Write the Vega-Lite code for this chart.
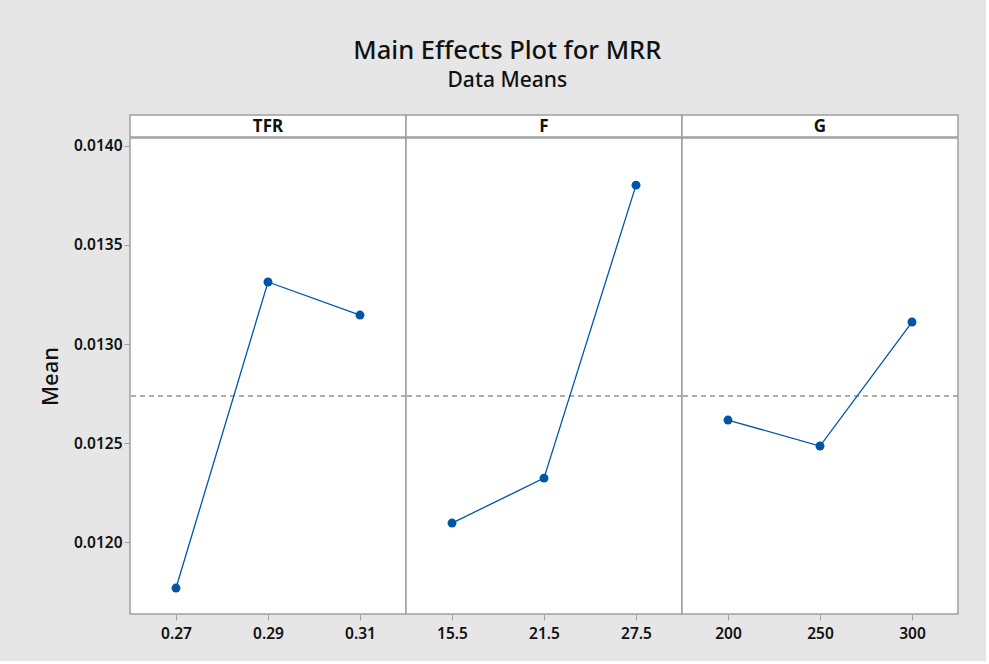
{
  "$schema": "https://vega.github.io/schema/vega-lite/v6.json",
  "background": "#e6e6e6",
  "padding": {"left": 39, "top": 38, "right": 26, "bottom": 18},
  "title": {
    "text": "Main Effects Plot for MRR",
    "subtitle": "Data Means",
    "anchor": "middle",
    "dx": 8,
    "font": "Noto Sans",
    "fontSize": 25.5,
    "fontWeight": 500,
    "color": "#111111",
    "subtitleFont": "Noto Sans",
    "subtitleFontSize": 21,
    "subtitleFontWeight": 500,
    "subtitleColor": "#111111",
    "subtitlePadding": 6,
    "offset": 23
  },
  "datasets": {
    "means": [
      {"factor": "TFR", "level": "0.27", "mean": 0.011768},
      {"factor": "TFR", "level": "0.29", "mean": 0.013313},
      {"factor": "TFR", "level": "0.31", "mean": 0.013146},
      {"factor": "F", "level": "15.5", "mean": 0.012096},
      {"factor": "F", "level": "21.5", "mean": 0.012323},
      {"factor": "F", "level": "27.5", "mean": 0.013802},
      {"factor": "G", "level": "200", "mean": 0.012616},
      {"factor": "G", "level": "250", "mean": 0.012485},
      {"factor": "G", "level": "300", "mean": 0.013111}
    ],
    "factors": [
      {"factor": "TFR"},
      {"factor": "F"},
      {"factor": "G"}
    ]
  },
  "vconcat": [
    {
      "data": {"name": "factors"},
      "facet": {
        "column": {"field": "factor", "sort": ["TFR", "F", "G"], "header": {"title": null, "labels": false}}
      },
      "spacing": 0,
      "bounds": "flush",
      "spec": {
        "width": 276,
        "height": 22,
        "layer": [
          {
            "mark": {"type": "rect", "fill": "white", "stroke": "#a0a0a0", "strokeWidth": 1.5},
            "encoding": {}
          },
          {
            "mark": {"type": "text", "font": "Noto Sans", "fontSize": 17, "fontWeight": "bold", "color": "#111111", "baseline": "middle", "align": "center", "dy": 1},
            "encoding": {"text": {"field": "factor"}}
          }
        ]
      }
    },
    {
      "data": {"name": "means"},
      "facet": {
        "column": {"field": "factor", "sort": ["TFR", "F", "G"], "header": {"title": null, "labels": false}}
      },
      "spacing": 0,
      "bounds": "flush",
      "resolve": {"scale": {"x": "independent"}},
      "spec": {
        "width": 276,
        "height": 476,
        "layer": [
          {
            "mark": {"type": "rule", "color": "#a0a0a0", "strokeDash": [5, 4], "strokeWidth": 1},
            "encoding": {"y": {"datum": 0.012738}}
          },
          {
            "mark": {"type": "line", "color": "#0055a5", "strokeWidth": 1.3},
            "encoding": {
              "x": {"field": "level", "type": "ordinal"},
              "y": {"field": "mean", "type": "quantitative"}
            }
          },
          {
            "mark": {"type": "point", "filled": true, "opacity": 1, "color": "#0055a5", "size": 80},
            "encoding": {
              "x": {
                "field": "level",
                "type": "ordinal",
                "title": null,
                "scale": {"type": "point", "padding": 0.5},
                "axis": {"labelAngle": 0, "labelAlign": "center", "labelBaseline": "top", "domain": false, "tickColor": "#a0a0a0", "tickSize": 6, "labelPadding": 6, "labelFont": "Noto Sans", "labelFontSize": 15.5, "labelFontWeight": 600, "labelColor": "#111111"}
              },
              "y": {
                "field": "mean",
                "type": "quantitative",
                "title": "Mean",
                "scale": {"domain": [0.011637, 0.01404], "nice": false, "zero": false},
                "axis": {"values": [0.012, 0.0125, 0.013, 0.0135, 0.014], "format": ".4f", "grid": false, "domain": false, "tickColor": "#a0a0a0", "tickSize": 6, "labelPadding": 2, "labelFont": "Noto Sans", "labelFontSize": 15.5, "labelFontWeight": 600, "labelColor": "#111111", "titleFont": "Noto Sans", "titleFontSize": 22, "titleFontWeight": 500, "titleColor": "#111111", "titlePadding": 11}
              }
            }
          }
        ]
      }
    }
  ],
  "spacing": -2,
  "config": {
    "view": {"stroke": "#a0a0a0", "strokeWidth": 1.5, "fill": "white"}
  }
}
